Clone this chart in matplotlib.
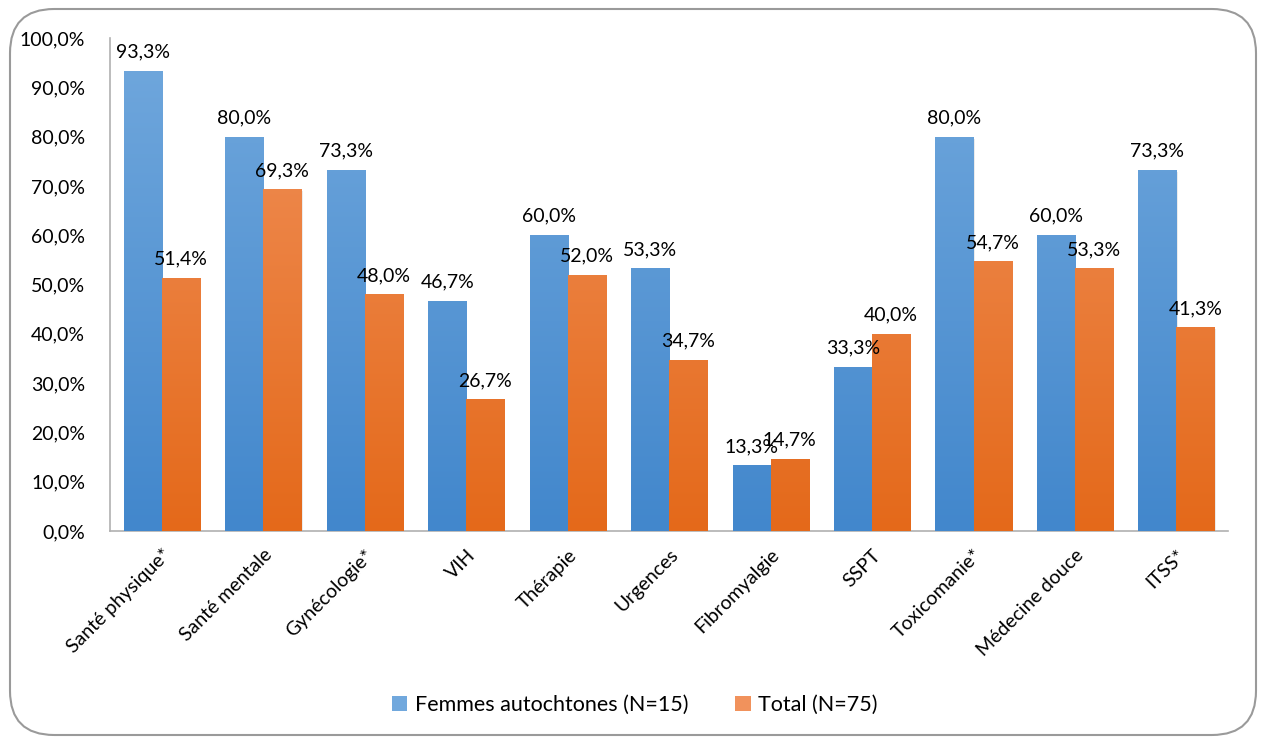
import matplotlib.pyplot as plt
import numpy as np
from matplotlib.colors import LinearSegmentedColormap
from matplotlib.patches import FancyBboxPatch, Patch

plt.rcParams["font.family"] = ["Lato", "DejaVu Sans"]

categories = ["Santé physique*", "Santé mentale", "Gynécologie*", "VIH", "Thérapie",
              "Urgences", "Fibromyalgie", "SSPT", "Toxicomanie*", "Médecine douce", "ITSS*"]
femmes = [93.3, 80.0, 73.3, 46.7, 60.0, 53.3, 13.3, 33.3, 80.0, 60.0, 73.3]
total = [51.4, 69.3, 48.0, 26.7, 52.0, 34.7, 14.7, 40.0, 54.7, 53.3, 41.3]
series_names = ["Femmes autochtones (N=15)", "Total (N=75)"]

BLUE = ("#4287cc", "#71a8dd")    # bottom, top
ORANGE = ("#e4691a", "#f1925c")


def fmt(v):
    return f"{v:.1f}".replace(".", ",") + "%"


fig = plt.figure(figsize=(12.62, 7.38), dpi=100)
ax = fig.add_axes([0.0872, 0.2805, 0.886, 0.668])

x = np.arange(len(categories))
width = 0.375
grad = np.linspace(0, 1, 256).reshape(-1, 1)

for values, offset, (c0, c1) in [(femmes, -width / 2, BLUE), (total, width / 2, ORANGE)]:
    cmap = LinearSegmentedColormap.from_list("g", [c0, c1])
    bars = ax.bar(x + offset, values, width, color=c0, edgecolor="none", zorder=2)
    for bar, v in zip(bars, values):
        bx, bw = bar.get_x(), bar.get_width()
        # soft shadow to the right of each bar
        ax.bar(bx + bw / 2 + 0.012, v, bw, bottom=-0.4, color="#000000", alpha=0.08,
               edgecolor="none", zorder=1)
        im = ax.imshow(grad, cmap=cmap, origin="lower", aspect="auto",
                       extent=(bx, bx + bw, 0, 100), zorder=3)
        im.set_clip_path(bar)
        ax.text(bx + bw / 2, v + 2.1, fmt(v), ha="center", va="bottom",
                fontsize=14, color="#000000", zorder=4)

ax.set_xlim(-0.51, len(categories) - 0.49)
ax.set_ylim(0, 100)
ax.set_yticks(np.arange(0, 101, 10))
ax.set_yticklabels([fmt(v) for v in np.arange(0, 101, 10)], fontsize=14)
ax.set_xticks(x)
ax.set_xticklabels(categories, rotation=45, ha="right", va="top",
                   rotation_mode="anchor", fontsize=14)
ax.tick_params(axis="y", length=0, pad=18)
ax.tick_params(axis="x", length=0, pad=11)
for side in ["top", "right"]:
    ax.spines[side].set_visible(False)
for side in ["left", "bottom"]:
    ax.spines[side].set_color("#b0b0b0")
    ax.spines[side].set_linewidth(1.2)

handles = [Patch(facecolor=BLUE[1], edgecolor="none"), Patch(facecolor=ORANGE[1], edgecolor="none")]
fig.legend(handles, series_names, loc="center", bbox_to_anchor=(0.503, 0.045), ncol=2,
           frameon=False, fontsize=15.5, handlelength=0.7, handleheight=0.7,
           handletextpad=0.35, columnspacing=2.2)

border = FancyBboxPatch((10 / 1262, 3 / 738), 1246 / 1262, 726 / 738,
                        boxstyle="round,pad=0,rounding_size=0.035",
                        transform=fig.transFigure, facecolor="none",
                        edgecolor="#9a9a9a", linewidth=1.5, mutation_aspect=1262 / 738)
fig.patches.append(border)

fig.savefig("out.png", dpi=100)
